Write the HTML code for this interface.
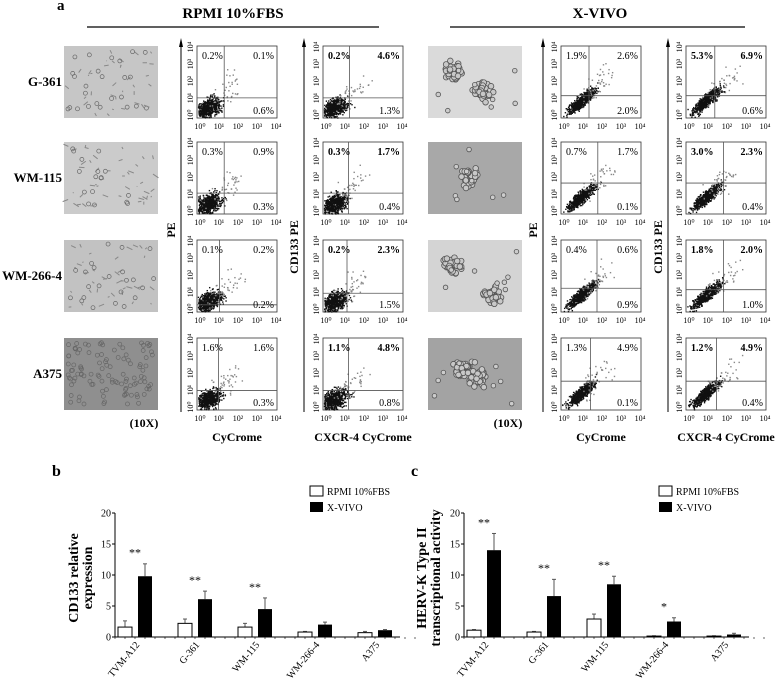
<!DOCTYPE html>
<html><head><meta charset="utf-8"><style>
body{margin:0;background:#fff}
svg text{font-family:"Liberation Serif",serif;fill:#000}
</style></head><body>
<svg id="fig" width="777" height="680" viewBox="0 0 777 680" xmlns="http://www.w3.org/2000/svg">
<text x="57" y="10" font-size="15" font-weight="bold">a</text>
<text x="233" y="18" font-size="15" font-weight="bold" text-anchor="middle">RPMI 10%FBS</text>
<line x1="87" y1="27" x2="379" y2="27" stroke="#000" stroke-width="1.2"/>
<text x="600" y="18" font-size="15" font-weight="bold" text-anchor="middle">X-VIVO</text>
<line x1="450" y1="27" x2="745" y2="27" stroke="#000" stroke-width="1.2"/>
<text x="52" y="476" font-size="16" font-weight="bold">b</text>
<text x="411" y="476" font-size="16" font-weight="bold">c</text>
<g id="topg"></g>
<g id="chartB"></g>
<g id="chartC"></g>
</svg>
<script>
const NS="http://www.w3.org/2000/svg";
function mk(p,t,a,txt){const e=document.createElementNS(NS,t);for(const k in a)e.setAttribute(k,a[k]);if(txt!==undefined)e.textContent=txt;p.appendChild(e);return e;}
let seed=7;function rnd(){seed=(seed*16807)%2147483647;return seed/2147483647;}
function gauss(){return (rnd()+rnd()+rnd()-1.5)/1.5;}
function gn(){return gauss()*3;}

// ---- Panel a (flow cytometry) ----
const cellLines=["G-361","WM-115","WM-266-4","A375"];
const rowTops=[46,142,240,338];
const boxH=72;
const plotX=[197,323,561,686];
const plotW=80;
const axisX=[181,304,543,668];
const quadV=[[0.34,0.34,0.28,0.27],[0.33,0.32,0.3,0.32],[0.35,0.46,0.45,0.37],[0.36,0.47,0.47,0.38]];
const quadH=[[0.72,0.71,0.9,0.73],[0.72,0.71,0.74,0.73],[0.69,0.57,0.67,0.6],[0.69,0.57,0.69,0.6]];
const pctUL=[["0.2%","0.3%","0.1%","1.6%"],["0.2%","0.3%","0.2%","1.1%"],["1.9%","0.7%","0.4%","1.3%"],["5.3%","3.0%","1.8%","1.2%"]];
const pctUR=[["0.1%","0.9%","0.2%","1.6%"],["4.6%","1.7%","2.3%","4.8%"],["2.6%","1.7%","0.6%","4.9%"],["6.9%","2.3%","2.0%","4.9%"]];
const pctLR=[["0.6%","0.3%","0.2%","0.3%"],["1.3%","0.4%","1.5%","0.8%"],["2.0%","0.1%","0.9%","0.1%"],["0.6%","0.4%","1.0%","0.4%"]];
const topG=document.getElementById('topg');

cellLines.forEach((n,i)=>{
  const t=mk(topG,'text',{x:62,y:rowTops[i]+40,'font-size':13,'font-weight':'bold','text-anchor':'end'},n);
  
  
});
const microLeftFill=["#c6c6c6","#cbcbcb","#c2c2c2","#8f8f8f"];
const microRightFill=["#dadada","#a8a8a8","#d4d4d4","#a3a3a3"];
[[64,microLeftFill,'rpmi'],[428,microRightFill,'xvivo']].forEach(([mx,fills,tag],side)=>{
  rowTops.forEach((ty,i)=>{
    const g=mk(topG,'g',{});
    
    
    mk(g,'rect',{x:mx,y:ty,width:94,height:72,fill:fills[i]});
    if(side===0){
      for(let k=0;k<(i===3?110:60);k++){
        const cx=mx+4+rnd()*86,cy=ty+4+rnd()*64;
        if(i===3||rnd()<0.4) mk(g,'circle',{cx:cx,cy:cy,r:2,fill:'none',stroke:'#666','stroke-width':0.7});
        else mk(g,'line',{x1:cx,y1:cy,x2:cx+(rnd()-0.5)*12,y2:cy+(rnd()-0.5)*8,stroke:'#888','stroke-width':1});
      }
    } else {
      const cl=[[[25,25],[55,45]],[[40,35]],[[25,25],[65,55]],[[35,30],[50,40]]][i];
      cl.forEach(([ox,oy])=>{for(let k=0;k<45;k++){mk(g,'circle',{cx:mx+ox+gauss()*13,cy:ty+oy+gauss()*13,r:2.8,fill:'#c8c8c8',stroke:'#555','stroke-width':0.8});}});
      for(let k=0;k<8;k++) mk(g,'circle',{cx:mx+5+rnd()*84,cy:ty+5+rnd()*62,r:2.3,fill:'#ccc',stroke:'#555','stroke-width':0.8});
    }
  });
  const t=mk(topG,'text',{x:mx+80,y:427,'font-size':12,'font-weight':'bold','text-anchor':'middle'},'(10X)');
  
  
});
const sups=["⁰","¹","²","³","⁴"];
const bluePanels={"3-1":1,"3-2":1};
plotX.forEach((px,p)=>{
  const ax=mk(topG,'line',{x1:axisX[p],y1:42,x2:axisX[p],y2:412,stroke:'#000','stroke-width':1});
  
  
  mk(topG,'polygon',{points:`${axisX[p]-2},47 ${axisX[p]+2},47 ${axisX[p]},38`,fill:'#000'});
  const yl=(p%2===0)?'PE':'CD133 PE';
  const yy=(p%2===0)?230:247;
  const yt=mk(topG,'text',{x:axisX[p]-6,y:yy,'font-size':12,'font-weight':'bold','text-anchor':'middle',transform:`rotate(-90 ${axisX[p]-6} ${yy})`},yl);
  
  
  const xl=(p%2===0)?'CyCrome':'CXCR-4 CyCrome';
  const xt=mk(topG,'text',{x:px+40,y:441,'font-size':12,'font-weight':'bold','text-anchor':'middle'},xl);
  
  
  rowTops.forEach((ty,r)=>{
    const g=mk(topG,'g',{});
    
    
    mk(g,'rect',{x:px,y:ty,width:plotW,height:boxH,fill:'#fff',stroke:'#333','stroke-width':0.8});
    const vx=px+quadV[p][r]*plotW, hy=ty+quadH[p][r]*boxH;
    const xv=p>=2;
    for(let k=0;k<640;k++){
      let x,y;
      if(k<600){
        const t=gn()*(xv?0.08:0.065);
        const w=gn()*(xv?0.022:0.04);
        const bx=xv?0.25:0.14, by=xv?0.24:0.15;
        x=bx+t+w; y=1-(by+t*(xv?1.0:0.85)-w);
      } else {
        const t=rnd()*0.3;
        x=(xv?0.3:0.2)+t+gn()*0.06; y=1-((xv?0.3:0.2)+t*1.1+gn()*0.08);
      }
      if(x<0.01||x>0.99||y<0.02||y>0.99) continue;
      mk(g,'rect',{x:px+x*plotW,y:ty+y*boxH,width:1.4,height:1.4,fill:k>=600?'#888':'#111'});
    }
    mk(g,'line',{x1:vx,y1:ty,x2:vx,y2:ty+boxH,stroke:'#555','stroke-width':0.8});
    mk(g,'line',{x1:px,y1:hy,x2:px+plotW,y2:hy,stroke:'#555','stroke-width':0.8});
    const bold=(p===1||p===3), key=p+'-'+r;
    const col=bluePanels[key]?'#1f2f6b':'#000';
    const fw=bold?'bold':'normal';
    mk(g,'text',{x:px+5,y:ty+13,'font-size':10,'font-weight':fw,fill:col},pctUL[p][r]);
    mk(g,'text',{x:px+plotW-3,y:ty+13,'font-size':10,'font-weight':fw,fill:col,'text-anchor':'end'},pctUR[p][r]);
    mk(g,'text',{x:px+plotW-3,y:ty+boxH-4,'font-size':10,fill:col,'text-anchor':'end'},pctLR[p][r]);
    for(let d=0;d<5;d++){
      mk(g,'text',{x:px+3+d*19,y:ty+boxH+11,'font-size':8,'text-anchor':'middle'},'10'+sups[d]);
      const yy2=ty+boxH-3-d*17;
      mk(g,'text',{x:px-4,y:yy2,'font-size':8,'text-anchor':'middle',transform:`rotate(-90 ${px-4} ${yy2})`},'10'+sups[d]);
    }
  });
});

// ---- Bar charts ----
const categories=["TVM-A12","G-361","WM-115","WM-266-4","A375"];
const bRpmi=[1.6,2.2,1.6,0.8,0.7];
const bRpmiErr=[1.0,0.7,0.6,0.1,0.2];
const bXvivo=[9.8,6.1,4.5,2.0,1.1];
const bXvivoErr=[2.0,1.3,1.8,0.4,0.1];
const bStars=["**","**","**","",""];
const cRpmi=[1.1,0.8,2.9,0.15,0.15];
const cRpmiErr=[0.1,0.1,0.8,0.05,0.05];
const cXvivo=[14.0,6.6,8.5,2.5,0.4];
const cXvivoErr=[2.7,2.7,1.3,0.6,0.2];
const cStars=["**","**","**","*",""];
const yTicks=[0,5,10,15,20];

function barChart(gid,ox,rpmi,rErr,xv,xErr,stars,ylab,lx){
  const g=document.getElementById(gid);
  const y0=637,ppu=6.2;const Y=v=>y0-v*ppu;
  const X=i=>ox+3+i*60;
  const ya=mk(g,'line',{x1:ox,y1:Y(0),x2:ox,y2:Y(20),stroke:'#000','stroke-width':1});
  
  const xa=mk(g,'line',{x1:ox,y1:Y(0),x2:ox+285,y2:Y(0),stroke:'#000','stroke-width':1});
  
  yTicks.forEach(t=>{
    mk(g,'line',{x1:ox-3,y1:Y(t),x2:ox,y2:Y(t),stroke:'#000'});
    const tl=mk(g,'text',{x:ox-4,y:Y(t)+3.5,'font-size':10,'text-anchor':'end'},String(t));
    
  });
  for(let k=0;k<=30;k++) mk(g,'line',{x1:ox+k*10,y1:Y(0),x2:ox+k*10,y2:Y(0)+2,stroke:'#000','stroke-width':0.6});
  categories.forEach((c,i)=>{
    mk(g,'line',{x1:X(i)+7,y1:Y(rpmi[i]),x2:X(i)+7,y2:Y(rpmi[i]+rErr[i]),stroke:'#555','stroke-width':1});
    mk(g,'line',{x1:X(i)+5,y1:Y(rpmi[i]+rErr[i]),x2:X(i)+9,y2:Y(rpmi[i]+rErr[i]),stroke:'#555'});
    const b1=mk(g,'rect',{x:X(i),y:Y(rpmi[i]),width:14,height:rpmi[i]*ppu,fill:'#fff',stroke:'#000','stroke-width':1});
    
    mk(g,'line',{x1:X(i)+27,y1:Y(xv[i]),x2:X(i)+27,y2:Y(xv[i]+xErr[i]),stroke:'#555','stroke-width':1});
    mk(g,'line',{x1:X(i)+25,y1:Y(xv[i]+xErr[i]),x2:X(i)+29,y2:Y(xv[i]+xErr[i]),stroke:'#555'});
    const b2=mk(g,'rect',{x:X(i)+20,y:Y(xv[i]),width:14,height:xv[i]*ppu,fill:'#000'});
    
    if(stars[i]){
      const sv=Math.max(rpmi[i]+rErr[i],xv[i]+xErr[i])+1.8;
      const st=mk(g,'text',{x:X(i)+17,y:Y(sv)+4,'font-size':12,'text-anchor':'middle'},stars[i]);
      
    }
    const cx=X(i)+22,cy=Y(0)+8;
    const tl=mk(g,'text',{x:cx,y:cy,'font-size':10,'text-anchor':'end',transform:`rotate(-50 ${cx} ${cy})`},c);
    
  });
  ylab.forEach((l,k)=>{
    const xx=lx+k*14,yy=578;
    const t=mk(g,'text',{x:xx,y:yy,'font-size':14,'font-weight':'bold','text-anchor':'middle',transform:`rotate(-90 ${xx} ${yy})`},l);
    
  });
  const lg=mk(g,'g',{});
  const lxx=ox+195;
  mk(lg,'rect',{x:lxx,y:486,width:13,height:10,fill:'#fff',stroke:'#000'});
  mk(lg,'text',{x:lxx+17,y:495,'font-size':10},'RPMI 10%FBS');
  mk(lg,'rect',{x:lxx,y:502,width:13,height:10,fill:'#000'});
  mk(lg,'text',{x:lxx+17,y:511,'font-size':10},'X-VIVO');
}
barChart('chartB',115,bRpmi,bRpmiErr,bXvivo,bXvivoErr,bStars,["CD133 relative","expression"],78);
barChart('chartC',464,cRpmi,cRpmiErr,cXvivo,cXvivoErr,cStars,["HERV-K Type II","transcriptional activity"],426);
</script>
</body></html>
